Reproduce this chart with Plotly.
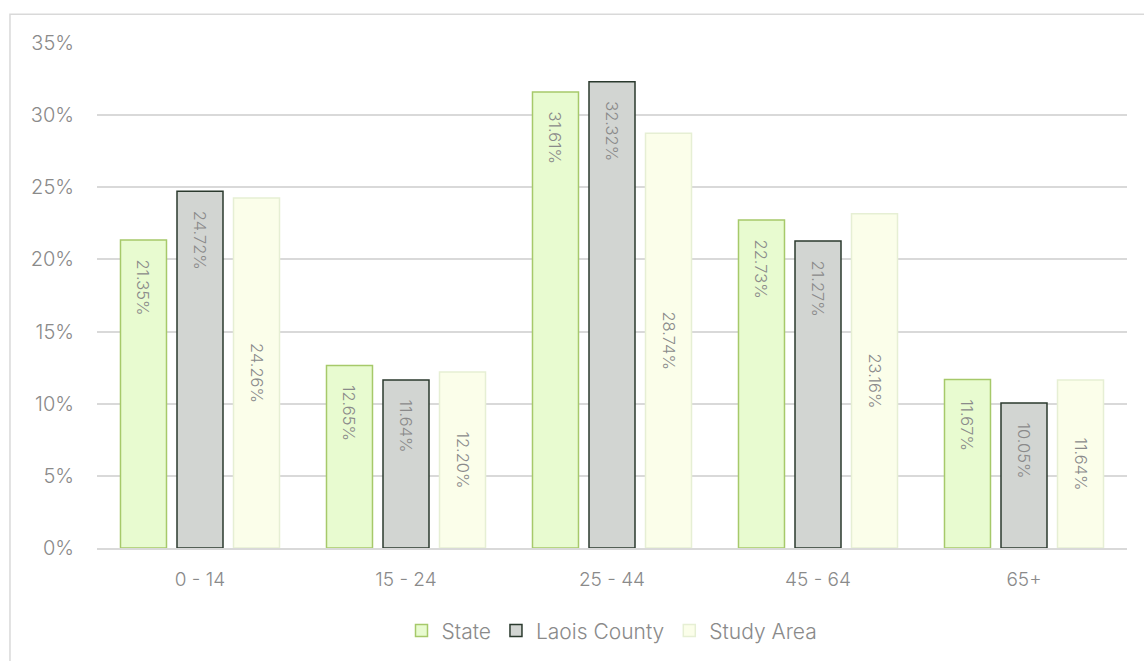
import plotly.graph_objects as go

categories = ["0 - 14", "15 - 24", "25 - 44", "45 - 64", "65+"]
state = [21.35, 12.65, 31.61, 22.73, 11.67]
laois = [24.72, 11.64, 32.32, 21.27, 10.05]
study = [24.26, 12.20, 28.74, 23.16, 11.64]
y_ticks = [0, 5, 10, 15, 20, 25, 30, 35]

FONT = "Inter"
GRAY = "#8a8a8a"
PAD = "\u2002\u2002"

fig = go.Figure()

series = [
    ("State", state, "#e8fbd0", "#a6c96a", "end", PAD),
    ("Laois County", laois, "#d2d5d2", "#2b3a2e", "end", PAD),
    ("Study Area", study, "#fbfeea", "#e6efd4", "middle", ""),
]
for name, vals, fill, line, anchor, pad in series:
    fig.add_trace(go.Bar(
        name=name, x=categories, y=vals,
        marker=dict(color=fill, line=dict(color=line, width=1.5)),
        text=[f"{pad}{v:.2f}%" for v in vals],
        textposition="inside", insidetextanchor=anchor,
        textangle=90,
        textfont=dict(family=FONT, size=16.5, color=GRAY, weight=300),
        hoverinfo="skip",
    ))

fig.update_layout(
    width=1144, height=661,
    margin=dict(l=97, r=17, t=43, b=113, autoexpand=False),
    paper_bgcolor="white", plot_bgcolor="white",
    barmode="group", bargap=0.177, bargroupgap=0.186,
    font=dict(family=FONT, color=GRAY, size=18, weight=300),
    legend=dict(orientation="h", x=0.5, xanchor="center", y=-0.164, yanchor="middle",
                font=dict(family=FONT, size=21, color=GRAY, weight=300), itemwidth=30,
                traceorder="normal"),
    xaxis=dict(showline=True, linecolor="#d9d9d9", linewidth=1.5, ticks="",
               tickfont=dict(family=FONT, size=19, color=GRAY, weight=300), ticklabelstandoff=13),
    yaxis=dict(range=[0, 35], tickvals=y_ticks, ticktext=[f"{t}%" for t in y_ticks],
               showgrid=True, gridcolor="#d9d9d9", gridwidth=1.5, zeroline=False,
               tickfont=dict(family=FONT, size=20, color=GRAY, weight=300), ticklabelstandoff=22),
    shapes=[dict(type="rect", xref="paper", yref="paper",
                 x0=-0.0845, x1=1.2, y0=-0.5, y1=1.057,
                 line=dict(color="#d9d9d9", width=1.5), fillcolor="rgba(0,0,0,0)",
                 layer="below")],
)

fig.write_html("out.html")
